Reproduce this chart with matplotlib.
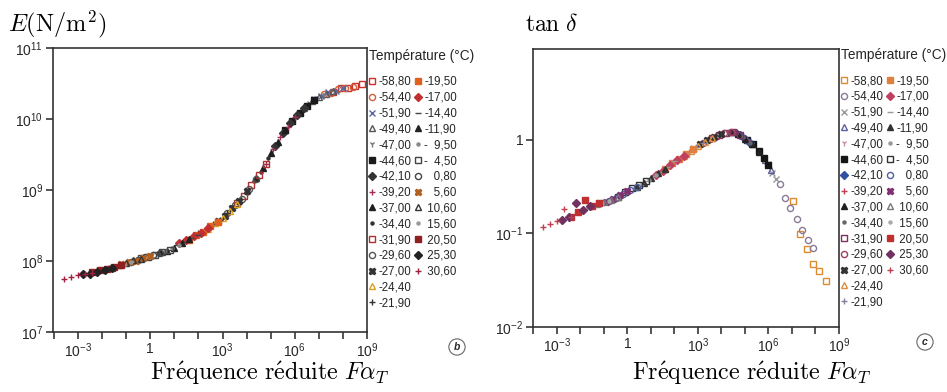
import matplotlib
matplotlib.use("Agg")
import matplotlib.pyplot as plt
import numpy as np
from matplotlib.lines import Line2D
from matplotlib.ticker import FixedLocator, FuncFormatter, NullLocator

plt.rcParams['font.family'] = ['Liberation Sans', 'DejaVu Sans']
plt.rcParams['mathtext.fontset'] = 'custom'
plt.rcParams['mathtext.rm'] = 'Liberation Sans'
plt.rcParams['mathtext.it'] = 'Liberation Sans:italic'
plt.rcParams['mathtext.bf'] = 'Liberation Sans:bold'

# temperatures (legend order), col 1 = first 15, col 2 = last 13
TEMPS = ['-58,80', '-54,40', '-51,90', '-49,40', '-47,00', '-44,60', '-42,10',
         '-39,20', '-37,00', '-34,40', '-31,90', '-29,60', '-27,00', '-24,40',
         '-21,90', '-19,50', '-17,00', '-14,40', '-11,90', '-\u20079,50',
         '-\u20074,50', '\u2008\u20070,80', '\u2008\u20075,60', '\u200810,60',
         '\u200815,60', '\u200820,50', '\u200825,30', '\u200830,60']

MARKERS = ['s', 'o', 'x', '^', '1', 's', 'D', '+', '^', '.', 's', 'o', 'X', '^',
           '+', 's', 'D', '_', '^', '.', 's', 'o', 'X', '^', '.', 's', 'D', '+']
OPEN = [True, True, False, True, False, False, False, False, False, False, True,
        True, False, True, False, False, False, False, False, False, True, True,
        False, True, False, False, False, False]

E_COLORS = ['#d0302a', '#d2603a', '#5a6aa0', '#555555', '#777777', '#1a1a1a',
            '#333333', '#a03050', '#1e1e1e', '#333333', '#b03030', '#555555',
            '#333333', '#e0a020', '#333333', '#e06020', '#c03030', '#444444',
            '#222222', '#888888', '#444444', '#444444', '#b06020', '#333333',
            '#999999', '#902020', '#222222', '#a02040']
T_COLORS = ['#e08a30', '#8a7a9a', '#999999', '#6060a0', '#d090a0', '#151515',
            '#3050a0', '#c04050', '#222222', '#666666', '#803060', '#a04060',
            '#333333', '#e09040', '#8080a0', '#e08040', '#c04060', '#999999',
            '#333333', '#999999', '#333333', '#5060a0', '#803070', '#777777',
            '#aaaaaa', '#c03030', '#703060', '#c04050']

# modulus E : log10(reduced frequency), log10(E in N/m2), one row per temperature
E_LOGF = [
    [7.6, 7.9, 8.2, 8.5, 8.8], [7.2, 7.5, 7.8, 8.1, 8.4], [6.8, 7.1, 7.4, 7.7, 8.0],
    [6.4, 6.7, 7.0, 7.3, 7.6], [6.0, 6.3, 6.6, 6.9, 7.2], [5.6, 5.9, 6.2, 6.5, 6.8],
    [5.2, 5.5, 5.8, 6.1, 6.4], [4.8, 5.1, 5.4, 5.7, 6.0], [4.4, 4.7, 5.0, 5.3, 5.6],
    [4.0, 4.3, 4.6, 4.9, 5.2], [3.6, 3.9, 4.2, 4.5, 4.8], [3.2, 3.5, 3.8, 4.1, 4.4],
    [2.8, 3.1, 3.4, 3.7, 4.0], [2.4, 2.7, 3.0, 3.3, 3.6], [2.0, 2.3, 2.6, 2.9, 3.2],
    [1.6, 1.9, 2.2, 2.5, 2.8], [1.2, 1.5, 1.8, 2.1, 2.4], [0.8, 1.1, 1.4, 1.7, 2.0],
    [0.4, 0.7, 1.0, 1.3, 1.6], [0.0, 0.3, 0.6, 0.9, 1.2], [-0.4, -0.1, 0.2, 0.5, 0.8],
    [-0.8, -0.5, -0.2, 0.1, 0.4], [-1.2, -0.9, -0.6, -0.3, 0.0],
    [-1.6, -1.3, -1.0, -0.7, -0.4], [-2.0, -1.7, -1.4, -1.1, -0.8],
    [-2.4, -2.1, -1.8, -1.5, -1.2], [-2.8, -2.5, -2.2, -1.9, -1.6],
    [-3.6, -3.3, -3.0, -2.7, -2.4]]
E_LOGE = [
    [10.38, 10.43, 10.44, 10.47, 10.49], [10.35, 10.37, 10.42, 10.43, 10.45],
    [10.28, 10.32, 10.38, 10.40, 10.43], [10.16, 10.26, 10.31, 10.35, 10.40],
    [10.03, 10.13, 10.22, 10.30, 10.34], [9.84, 9.97, 10.09, 10.19, 10.27],
    [9.62, 9.80, 9.95, 10.06, 10.16], [9.37, 9.58, 9.74, 9.89, 10.03],
    [9.17, 9.31, 9.52, 9.68, 9.85], [8.96, 9.12, 9.26, 9.45, 9.62],
    [8.82, 8.92, 9.07, 9.21, 9.37], [8.67, 8.79, 8.88, 9.02, 9.15],
    [8.57, 8.64, 8.75, 8.85, 8.98], [8.45, 8.54, 8.61, 8.71, 8.80],
    [8.39, 8.43, 8.52, 8.58, 8.68], [8.30, 8.37, 8.41, 8.49, 8.55],
    [8.25, 8.29, 8.35, 8.40, 8.47], [8.15, 8.22, 8.27, 8.33, 8.37],
    [8.12, 8.14, 8.19, 8.26, 8.31], [8.06, 8.10, 8.14, 8.18, 8.23],
    [8.04, 8.06, 8.08, 8.12, 8.16], [7.99, 8.01, 8.05, 8.09, 8.11],
    [7.96, 7.98, 8.00, 8.04, 8.07], [7.90, 7.94, 7.97, 8.01, 8.03],
    [7.87, 7.91, 7.93, 7.95, 7.99], [7.84, 7.87, 7.89, 7.91, 7.95],
    [7.81, 7.82, 7.85, 7.88, 7.90], [7.75, 7.77, 7.80, 7.81, 7.83]]

# loss factor tan delta : log10(reduced frequency), log10(tan delta)
T_LOGF = [
    [7.04, 7.34, 7.63, 7.90, 8.15, 8.44], [6.49, 6.70, 6.91, 7.20, 7.41, 7.68, 7.90],
    [6.0, 6.15, 6.3], [5.6, 5.85, 6.1], [5.3, 5.55, 5.8],
    [5.1, 5.35, 5.6, 5.8, 6.0], [4.6, 4.8, 5.0, 5.2], [4.3, 4.5, 4.7, 4.9, 5.1],
    [4.4, 4.7, 5.0, 5.3, 5.6], [4.0, 4.3, 4.6, 4.9, 5.2], [3.6, 3.9, 4.2, 4.5, 4.8],
    [3.2, 3.5, 3.8, 4.1, 4.4], [2.8, 3.1, 3.4, 3.7, 4.0], [2.4, 2.7, 3.0, 3.3, 3.6],
    [2.0, 2.3, 2.6, 2.9, 3.2], [1.6, 1.9, 2.2, 2.5, 2.8], [1.2, 1.5, 1.8, 2.1, 2.4],
    [0.8, 1.1, 1.4, 1.7, 2.0], [0.4, 0.7, 1.0, 1.3, 1.6], [0.0, 0.3, 0.6, 0.9, 1.2],
    [-0.4, -0.1, 0.2, 0.5, 0.8], [-0.8, -0.5, -0.2, 0.1, 0.4],
    [-1.2, -0.9, -0.6, -0.3, 0.0], [-1.6, -1.3, -1.0, -0.7, -0.4],
    [-2.0, -1.7, -1.4, -1.1, -0.8], [-2.4, -2.1, -1.8, -1.5, -1.2],
    [-2.8, -2.5, -2.2, -1.9, -1.6], [-3.6, -3.3, -3.0, -2.7, -2.4]]
T_LOGV = [
    [-0.65, -1.01, -1.17, -1.33, -1.40, -1.51],
    [-0.47, -0.62, -0.73, -0.85, -0.96, -1.07, -1.16],
    [-0.26, -0.36, -0.42], [-0.12, -0.22, -0.32], [-0.05, -0.11, -0.20],
    [0.00, -0.05, -0.12, -0.19, -0.27], [0.07, 0.05, 0.01, -0.03],
    [0.08, 0.08, 0.06, 0.03, 0.00], [0.08, 0.06, 0.01, -0.05, -0.13],
    [0.06, 0.08, 0.07, 0.03, -0.03], [0.02, 0.05, 0.07, 0.08, 0.05],
    [-0.03, 0.01, 0.04, 0.07, 0.08], [-0.10, -0.05, 0.00, 0.03, 0.06],
    [-0.17, -0.12, -0.07, -0.02, 0.02], [-0.23, -0.19, -0.13, -0.08, -0.03],
    [-0.31, -0.25, -0.20, -0.15, -0.10], [-0.38, -0.33, -0.27, -0.22, -0.17],
    [-0.44, -0.39, -0.34, -0.29, -0.23], [-0.50, -0.46, -0.41, -0.36, -0.31],
    [-0.55, -0.51, -0.47, -0.43, -0.38], [-0.61, -0.56, -0.52, -0.48, -0.44],
    [-0.65, -0.62, -0.58, -0.54, -0.50], [-0.68, -0.66, -0.63, -0.59, -0.55],
    [-0.71, -0.69, -0.66, -0.64, -0.61], [-0.76, -0.72, -0.70, -0.67, -0.65],
    [-0.82, -0.77, -0.64, -0.71, -0.68], [-0.86, -0.83, -0.67, -0.75, -0.71],
    [-0.93, -0.90, -0.87, -0.74, -0.82]]

X_LABELS = {-3: r'$10^{-3}$', 0: '1', 3: r'$10^{3}$', 6: r'$10^{6}$', 9: r'$10^{9}$'}
E_YLABELS = {7: r'$10^{7}$', 8: r'$10^{8}$', 9: r'$10^{9}$', 10: r'$10^{10}$', 11: r'$10^{11}$'}
T_YLABELS = {-2: r'$10^{-2}$', -1: r'$10^{-1}$', 0: '1'}

W, H = 947, 392
INK = '#262626'


def style(c, k):
    return dict(ls='none', marker=MARKERS[k], ms=4.4, mec=c, mew=1.0,
                mfc='none' if OPEN[k] else c)


def setup_axes(ax, ylabels):
    ax.set_xscale('log')
    ax.set_yscale('log')
    ax.xaxis.set_major_locator(FixedLocator(10.0 ** np.arange(-4, 10)))
    ax.xaxis.set_minor_locator(NullLocator())
    ax.yaxis.set_minor_locator(NullLocator())
    ax.xaxis.set_major_formatter(FuncFormatter(
        lambda v, p: X_LABELS.get(int(round(np.log10(v))), '')))
    ax.yaxis.set_major_locator(FixedLocator([10.0 ** e for e in ylabels]))
    ax.yaxis.set_major_formatter(FuncFormatter(
        lambda v, p: ylabels.get(int(round(np.log10(v))), '')))
    ax.tick_params(direction='out', length=5, width=1.1, colors=INK,
                   labelsize=10, pad=2)
    for s in ax.spines.values():
        s.set_color('#333333')
        s.set_linewidth(1.2)


def panel(fig, rect, logf, logv, colors):
    ax = fig.add_axes(rect)
    for k in range(len(TEMPS)):
        ax.plot(10.0 ** np.array(logf[k]), 10.0 ** np.array(logv[k]),
                **style(colors[k], k))
    return ax


def legend(fig, x, y, colors):
    fig.text(x / W, 1 - y / H, 'Température (°C)', fontsize=9.8, color=INK,
             ha='left', va='top')
    handles = [Line2D([], [], **style(colors[k], k)) for k in range(len(TEMPS))]
    handles += [Line2D([], [], ls='none'), Line2D([], [], ls='none')]
    leg = fig.legend(handles, TEMPS + ['', ''], ncol=2, loc='upper left',
                     bbox_to_anchor=(x / W, 1 - (y + 27) / H), frameon=False,
                     fontsize=8.3, handlelength=0.5, handletextpad=0.3,
                     columnspacing=0.35, labelspacing=0.33, borderpad=0,
                     borderaxespad=0)
    for t in leg.get_texts():
        t.set_color(INK)


fig = plt.figure(figsize=(W / 100, H / 100), dpi=100)

ax1 = panel(fig, [53 / W, 1 - 332 / H, 314 / W, 284 / H], E_LOGF, E_LOGE, E_COLORS)
setup_axes(ax1, E_YLABELS)
ax1.set_xlim(10 ** -4.04, 1e9)
ax1.set_ylim(1e7, 1e11)

ax2 = panel(fig, [533 / W, 1 - 327 / H, 306 / W, 278 / H], T_LOGF, T_LOGV, T_COLORS)
setup_axes(ax2, T_YLABELS)
ax2.set_xlim(10 ** -4.02, 1e9)
ax2.set_ylim(1e-2, 10 ** 0.97)

legend(fig, 369, 49, E_COLORS)
legend(fig, 841, 48, T_COLORS)

fig.text(8 / W, 1 - 31 / H, r'$E(\mathrm{N/m^2})$', math_fontfamily='cm',
         fontsize=17.5, va='baseline')
fig.text(525 / W, 1 - 31 / H, r'$\tan\,\delta$', math_fontfamily='cm',
         fontsize=17, va='baseline')
xlab = r"$\mathrm{Fr\'equence\ r\'eduite}\ F\alpha_T$"
fig.text(270 / W, 1 - 380 / H, xlab, math_fontfamily='cm', fontsize=17.3,
         ha='center', va='baseline')
fig.text(752 / W, 1 - 380 / H, xlab, math_fontfamily='cm', fontsize=17.3,
         ha='center', va='baseline')

for lx, ly, s in [(457, 347, 'b'), (925, 342, 'c')]:
    fig.text(lx / W, 1 - ly / H, s, ha='center', va='center', fontsize=7.5,
             style='italic', weight='bold', color=INK,
             bbox=dict(boxstyle='circle,pad=0.3', fc='none', ec='#666666', lw=0.8))

fig.savefig('out.png', dpi=100)
